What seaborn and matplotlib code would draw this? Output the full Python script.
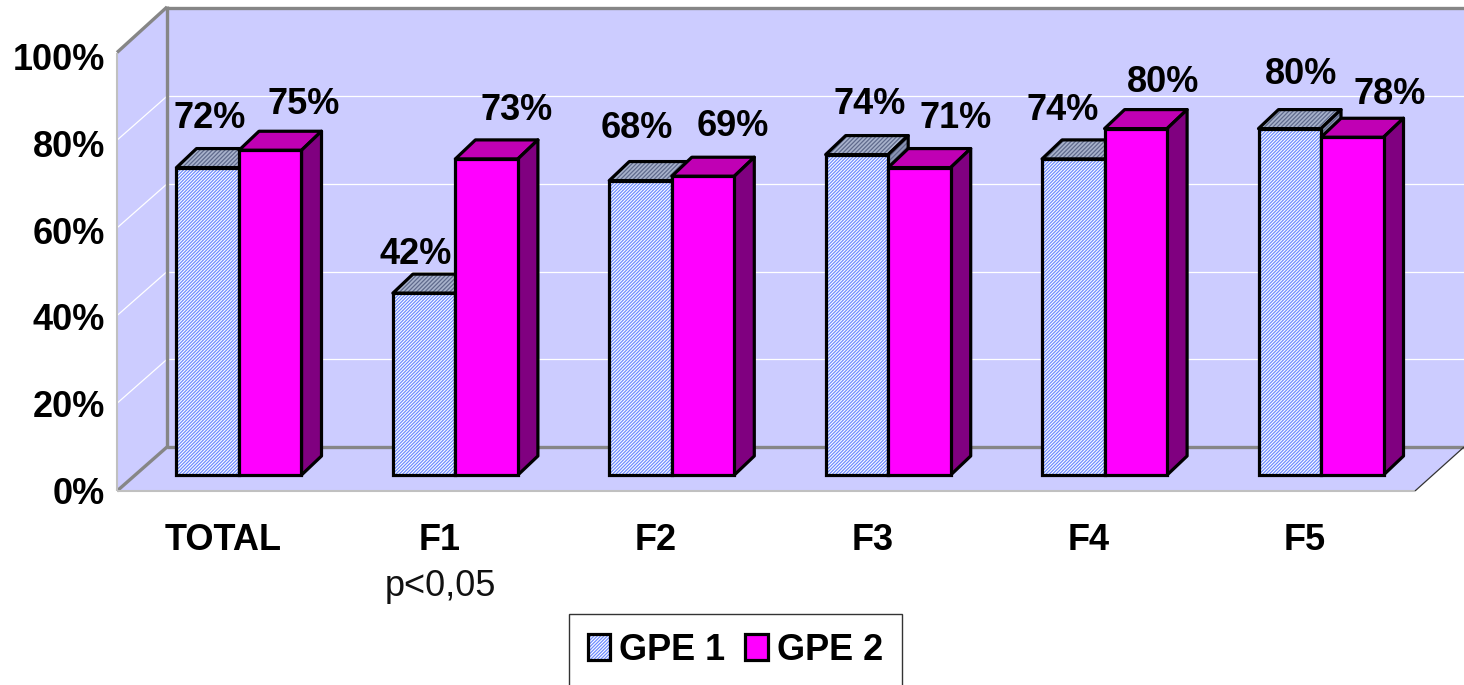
import matplotlib
matplotlib.use("Agg")
import matplotlib.pyplot as plt
from matplotlib.legend_handler import HandlerTuple
from matplotlib.patches import Patch, Polygon, Rectangle
from matplotlib.transforms import Affine2D
import pandas as pd
import seaborn as sns

categories = ["TOTAL", "F1", "F2", "F3", "F4", "F5"]
# bar heights, the printed labels are a bit different
gpe1_heights = [71, 42, 68, 74, 73, 80]
gpe2_heights = [75, 73, 69, 71, 80, 78]
gpe1_labels = ["72%", "42%", "68%", "74%", "74%", "80%"]
gpe2_labels = ["75%", "73%", "69%", "71%", "80%", "78%"]
y_ticks = [0, 20, 40, 60, 80, 100]

# pixel layout of the picture (hand placed labels)
W, H = 1464, 685
BAR_BASE = 475
PX_PER_PCT = 4.33
CAT_STEP = 216.4
CAT_START = 239
gpe1_label_pos = [(210, 115), (416, 250), (637, 124), (870, 100), (1063, 107), (1301, 71)]
gpe2_label_pos = [(304, 100), (517, 107), (733, 123), (956, 115), (1163, 79), (1390, 91)]

sns.set_theme(style="white")
plt.rcParams["font.family"] = ["Liberation Sans", "DejaVu Sans"]
plt.rcParams["hatch.linewidth"] = 0.9

WALL = "#ccccff"
GRAY = "#868686"
BLUE_HATCH = "#6f8cff"
LW = 2.3
FS = 26

df = pd.DataFrame({"category": categories, "GPE 1": gpe1_heights, "GPE 2": gpe2_heights})
df = df.melt(id_vars="category", var_name="group", value_name="value")

fig = plt.figure(figsize=(W / 100, H / 100), dpi=100)
ax = fig.add_axes([0, 0, 1, 1])
sns.barplot(data=df, x="category", y="value", hue="group", order=categories,
            palette={"GPE 1": "white", "GPE 2": "#ff00ff"}, saturation=1,
            width=2 * 62.5 / CAT_STEP, gap=0, legend=False, ax=ax, zorder=5)
ax.set_xlim(-CAT_START / CAT_STEP, (W - CAT_START) / CAT_STEP)
ax.set_ylim(-(H - BAR_BASE) / PX_PER_PCT, BAR_BASE / PX_PER_PCT)
ax.axis("off")

# picture pixels, y going down
px = Affine2D().scale(1, -1).translate(0, H)


def poly(points, zorder=1, **kw):
    ax.add_patch(Polygon(points, closed=True, transform=px, zorder=zorder, clip_on=False, **kw))


def line(x0, y0, x1, y1, color, lw, zorder=1.5):
    ax.plot([x0, x1], [y0, y1], color=color, lw=lw, transform=px, zorder=zorder,
            solid_capstyle="butt", clip_on=False)


# walls and floor
WX0, WX1, FX1 = 117, 167, 1415
FRONT0, BACK0, DY = 491, 447, 87.7
poly([(WX1, 8), (W, 8), (W, BACK0), (WX1, BACK0)], facecolor=WALL, edgecolor="none")
poly([(WX0, FRONT0 - 5 * DY), (WX1, 8), (WX1, BACK0), (WX0, FRONT0)], facecolor=WALL, edgecolor="none")
poly([(WX0, FRONT0), (WX1, BACK0), (W, BACK0), (FX1, FRONT0)], facecolor=WALL, edgecolor="none")
for t in y_ticks[1:-1]:
    k = t / 20
    line(WX0, FRONT0 - k * DY, WX1, BACK0 - k * DY, "white", 0.9)
    line(WX1, BACK0 - k * DY, W, BACK0 - k * DY, "white", 0.9)
line(WX1, 8, W, 8, GRAY, 2.4)
line(WX1, 6, WX1, BACK0 + 1, GRAY, 2.4)
line(WX1, BACK0, W, BACK0, GRAY, 2.4)
line(WX0, FRONT0 - 5 * DY, WX1, 7, GRAY, 2.4)
line(WX0, FRONT0, WX1, BACK0, GRAY, 2.4)
line(WX0, FRONT0, WX0, FRONT0 - 5 * DY, "#c0c0c0", 1.5)
line(WX0, FRONT0, FX1, FRONT0, "#c0c0c0", 1.5)
line(FX1, FRONT0, W, BACK0, "#333333", 0.9)

# 3d faces built from the bars seaborn drew
DEPTH_X, DEPTH_Y = 20, 19
styles = [
    dict(top="#a9b3cc", side="#8c96b3", hatch="////////", hatch_col="#5f6a8c", z=3),
    dict(top="#c000b4", side="#800080", hatch=None, hatch_col=None, z=4),
]
to_px = ax.transData + px.inverted()
for cont, st in zip(ax.containers, styles):
    for bar in cont:
        (x0, y1), (x1, y0) = to_px.transform([(bar.get_x(), 0),
                                              (bar.get_x() + bar.get_width(), bar.get_height())])
        top = [(x0, y0), (x0 + DEPTH_X, y0 - DEPTH_Y), (x1 + DEPTH_X, y0 - DEPTH_Y), (x1, y0)]
        side = [(x1, y0), (x1 + DEPTH_X, y0 - DEPTH_Y), (x1 + DEPTH_X, y1 - DEPTH_Y), (x1, y1)]
        for pts, col in ((top, st["top"]), (side, st["side"])):
            if st["hatch"]:
                poly(pts, zorder=st["z"], facecolor=col, edgecolor=st["hatch_col"], hatch=st["hatch"], lw=0)
            poly(pts, zorder=st["z"], facecolor="none" if st["hatch"] else col, edgecolor="black",
                 lw=LW, joinstyle="round")
        if st["hatch"]:
            # hatch takes the edge colour, so the black outline is a second patch
            bar.set(edgecolor=BLUE_HATCH, hatch="//////////", linewidth=0)
            ax.add_patch(Rectangle((bar.get_x(), 0), bar.get_width(), bar.get_height(), facecolor="none",
                                   edgecolor="black", lw=LW, zorder=5.1))
        else:
            bar.set(edgecolor="black", linewidth=LW, zorder=5.2)

# value labels
for labels, positions in ((gpe1_labels, gpe1_label_pos), (gpe2_labels, gpe2_label_pos)):
    for lab, (x, y) in zip(labels, positions):
        ax.text(x, y, lab, transform=px, ha="center", va="center_baseline", fontsize=FS,
                fontweight="bold", color="black", zorder=8)

# axis texts
for t in y_ticks:
    ax.text(105, 490 - t * 4.33, f"{t}%", transform=px, ha="right", va="center_baseline",
            fontsize=FS, fontweight="bold", color="black", zorder=8)
for i, cat in enumerate(categories):
    x = to_px.transform((i, 0))[0] - 16
    ax.text(x, 537, cat, transform=px, ha="center", va="center_baseline", fontsize=FS,
            fontweight="bold", color="black", zorder=8)
ax.text(to_px.transform((1, 0))[0] - 15, 583, "p<0,05", transform=px, ha="center", va="center_baseline",
        fontsize=26, color="#111111", zorder=8)

# legend, the bottom of the frame falls off the picture like in the original
h1 = (Patch(facecolor="white", edgecolor=BLUE_HATCH, hatch="//////////", lw=0),
      Patch(facecolor="none", edgecolor="black", lw=LW))
h2 = Patch(facecolor="#ff00ff", edgecolor="black", lw=LW)
leg = ax.legend([h1, h2], ["GPE 1", "GPE 2"], ncol=2, loc="upper left",
                bbox_to_anchor=(569 / W, 1 - 614 / H), bbox_transform=fig.transFigure,
                borderaxespad=0, frameon=True, fancybox=False, edgecolor="#333333", framealpha=1,
                prop={"weight": "bold", "size": 26}, labelcolor="black",
                handlelength=0.62, handleheight=0.7, handletextpad=0.25, columnspacing=0.55,
                borderpad=0.52, handler_map={tuple: HandlerTuple(ndivide=1, pad=0)})
leg.get_frame().set_linewidth(1.0)
leg.set_zorder(9)

fig.savefig("out.png", dpi=100)
